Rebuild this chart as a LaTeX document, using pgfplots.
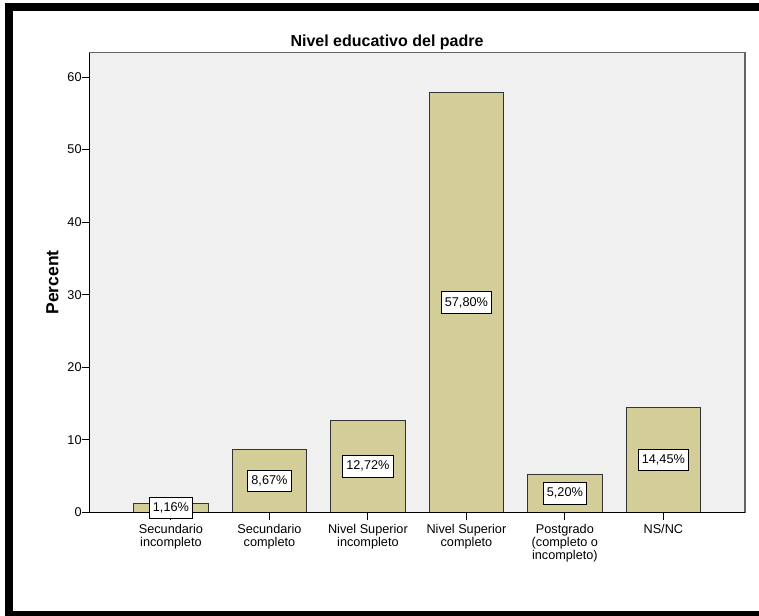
\documentclass[border=0pt]{standalone}
\usepackage{fontspec}
\setmainfont{Liberation Sans}
\usepackage{pgfplots}
\usepackage{pgfplotstable}
\pgfplotsset{compat=1.18}
\definecolor{barfill}{RGB}{211,206,151}
\definecolor{bgc}{RGB}{240,240,240}
\definecolor{frm}{RGB}{100,100,100}
\newcommand\tl{\fontsize{12.7bp}{13bp}\selectfont}
\pgfplotstableread{
x v
1 1.16
2 8.67
3 12.72
4 57.80
5 5.20
6 14.45
}\datatab
\begin{document}
\begin{tikzpicture}
\useasboundingbox (0,0) rectangle (759bp,-616bp);
\fill[white] (0,0) rectangle (759bp,-616bp);
\fill[black] (5bp,-3bp) rectangle (759bp,-11bp);
\fill[black] (5bp,-3bp) rectangle (13bp,-616bp);
\fill[black] (5bp,-611bp) rectangle (759bp,-616bp);
\begin{axis}[
  at={(89.3bp,-512.3bp)}, anchor=south west,
  width=655.7bp, height=459.6bp, scale only axis,
  xmin=0.171, xmax=6.829, ymin=0, ymax=63.35,
  axis background/.style={fill=bgc},
  axis line style={draw=frm, line width=1.1bp},
  xtick={1,2,3,4,5,6},
  xticklabels={{Secundario\\incompleto},{Secundario\\completo},{Nivel Superior\\incompleto},{Nivel Superior\\completo},{Postgrado\\(completo o\\incompleto)},{NS/NC}},
  ytick={0,10,20,30,40,50,60},
  tick align=outside, xtick pos=bottom, ytick pos=left,
  major tick length=7.5bp,
  tick style={black, line width=1bp},
  xticklabel style={align=center, font=\tl, inner sep=0pt, yshift=-4bp},
  yticklabel style={font=\tl, inner sep=0pt, xshift=0bp},
  /pgf/number format/assume math mode=true,
  clip=false,
]
\addplot[ybar, bar width=0.754, fill=barfill, draw=black!80, line width=1bp] table[x=x, y=v] {\datatab};
\addplot[draw=none, mark=none,
  point meta=explicit,
  nodes near coords={\pgfmathprintnumber[fixed, fixed zerofill, precision=2, use comma, assume math mode=true]{\pgfplotspointmeta}\%},
  nodes near coords align=center,
  every node near coord/.style={font=\tl, fill=white, draw=black, line width=0.9bp, text height=9.4bp, text depth=2.6bp, inner xsep=3.6bp, inner ysep=4.8bp, anchor=center},
] table[x=x, y expr=\thisrow{v}/2, meta=v] {\datatab};
\draw[black, line width=1.2bp] (rel axis cs:0,1) -- (rel axis cs:0,0) -- (rel axis cs:1,0);
\end{axis}
\node[anchor=base, font=\fontsize{16bp}{18bp}\selectfont\bfseries] at (387bp,-46.5bp) {Nivel educativo del padre};
\node[anchor=base, rotate=90, font=\fontsize{17.5bp}{19bp}\selectfont\bfseries] at (58.3bp,-282.5bp) {Percent};
\end{tikzpicture}
\end{document}
